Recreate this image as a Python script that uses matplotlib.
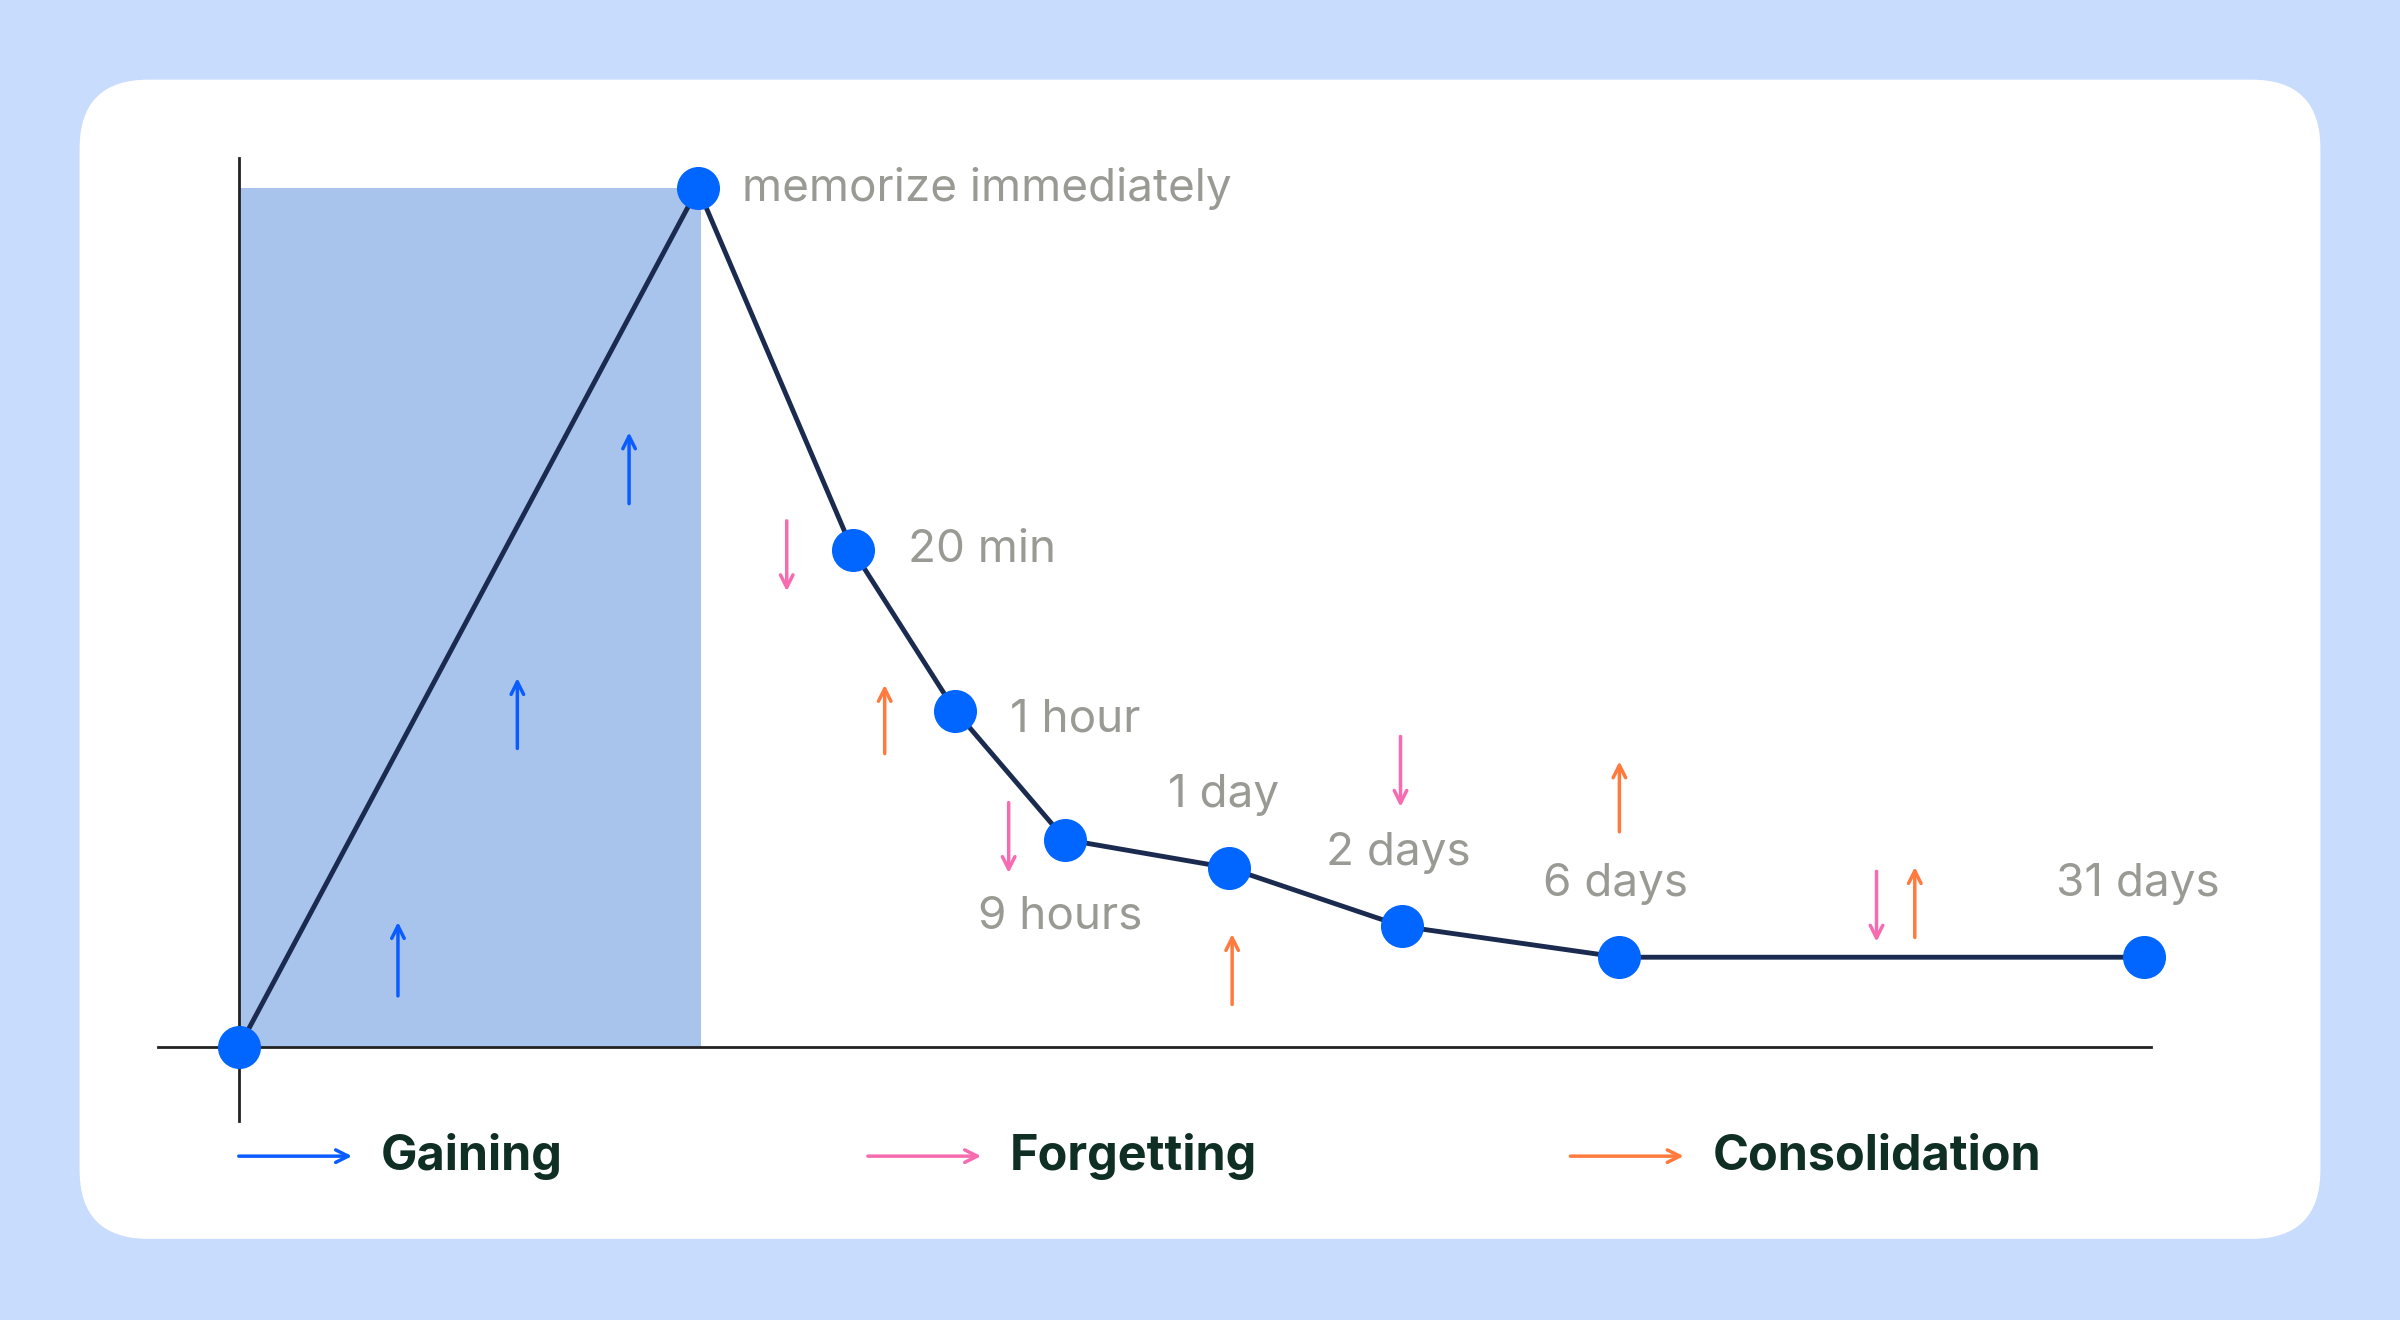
import matplotlib
matplotlib.use("Agg")
import matplotlib.pyplot as plt
from matplotlib.patches import FancyBboxPatch, Rectangle

plt.rcParams['font.family'] = ['Inter', 'DejaVu Sans']

# data (x = elapsed position, y = retention %)
labels = ["", "memorize immediately", "20 min", "1 hour", "9 hours", "1 day", "2 days", "6 days", "31 days"]
xs = [0, 300, 401, 468, 540, 647, 760, 902, 1245]
ys = [0, 100, 57.9, 39.2, 24.2, 20.9, 14.1, 10.5, 10.5]
label_dx = [0, 29, 36, 36, -57, -40, -50, -50, -58]
label_dy = [0, 0, 0, -1, -9, 8.5, 8.5, 8.5, 8.5]

# small arrows: (x, y_start, y_end)
gain_arrows = [(104, 6, 14.6), (182, 34.8, 43), (255, 63.3, 71.6)]
forget_arrows = [(358, 61.3, 53.1), (503, 28.5, 20.3), (759, 36.2, 28), (1070, 20.5, 12.3)]
consol_arrows = [(422, 34.2, 42.2), (649, 5, 13.2), (902, 25.1, 33.3), (1095, 12.8, 21)]
legend_items = ["Gaining", "Forgetting", "Consolidation"]

BLUE = "#0A5CFF"; PINK = "#F76BB0"; ORANGE = "#FF7A3D"

def py(p):  # pixel-row (display space) to y value
    return (684 - p) / 5.61

fig = plt.figure(figsize=(24, 13.2), dpi=100)
fig.patch.set_facecolor("#C8DCFD")
ax = fig.add_axes([0, 0, 1, 1])
ax.set_xlim(-156, 1568 - 156)
ax.set_ylim(py(862), py(0))
ax.axis("off")

ax.add_patch(FancyBboxPatch((52 - 156, py(809)), 1464, py(52) - py(809),
                            boxstyle="round,pad=0,rounding_size=45", mutation_aspect=1/5.61,
                            fc="white", ec="none"))
ax.add_patch(Rectangle((0, 0), 302, 100, fc="#A9C4EC", ec="none"))
ax.plot([0, 0], [py(732), py(103)], color="#222222", lw=2)
ax.plot([-53, 1249], [0, 0], color="#222222", lw=2)

ax.plot(xs, ys, color="#1B2B50", lw=3.5, zorder=3)
ax.plot(xs, ys, "o", color="#0066FF", ms=31, mec="none", zorder=4)
for x, y, t, dx, dy in zip(xs, ys, labels, label_dx, label_dy):
    if t:
        ax.text(x + dx, y + dy, t, fontsize=33, color="#9A9A95", va="center", ha="left")

def arr(x0, y0, x1, y1, c):
    ax.annotate("", xy=(x1, y1), xytext=(x0, y0),
                arrowprops=dict(arrowstyle="->,head_length=0.9,head_width=0.45", color=c, lw=2.5,
                                shrinkA=0, shrinkB=0))

for x, a, b in gain_arrows:
    arr(x, a, x, b, BLUE)
for x, a, b in forget_arrows:
    arr(x, a, x, b, PINK)
for x, a, b in consol_arrows:
    arr(x, a, x, b, ORANGE)

ly = py(755)
for (x0, c), t in zip([(0, BLUE), (411, PINK), (870, ORANGE)], legend_items):
    arr(x0, ly, x0 + 74, ly, c)
    ax.text(x0 + 93, ly, t, fontsize=35, fontweight="bold", color="#0F2E24", va="center")

fig.savefig("out.png", dpi=100, facecolor=fig.get_facecolor())
